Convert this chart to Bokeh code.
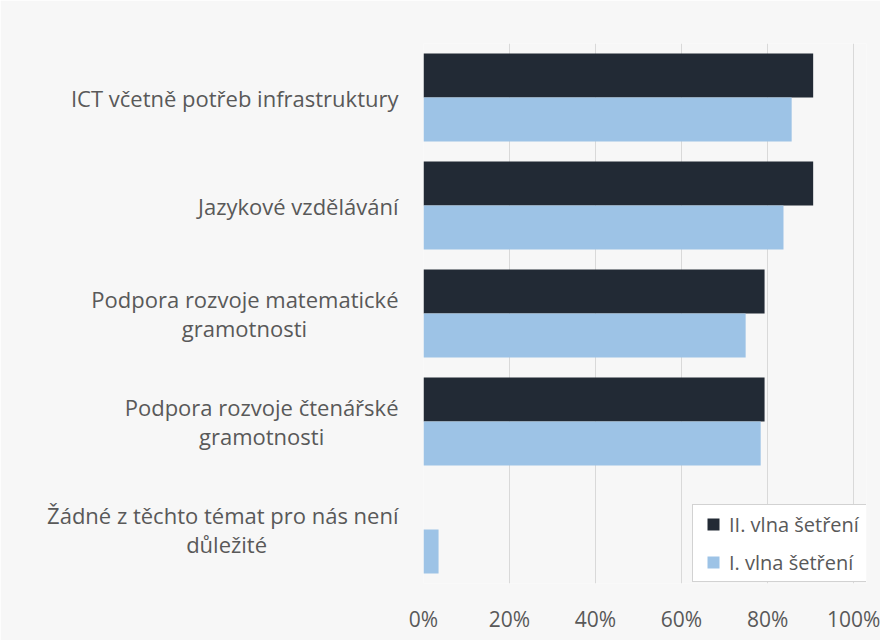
from bokeh.plotting import figure
from bokeh.models import FactorRange, Range1d, Legend, LegendItem, FixedTicker, PrintfTickFormatter, ColumnDataSource
from bokeh.transform import dodge
from bokeh.embed import file_html
from bokeh.resources import INLINE

NB = "\u00a0"
categories = [
    "ICT včetně potřeb infrastruktury",
    "Jazykové vzdělávání",
    "Podpora rozvoje matematické\ngramotnosti" + NB * 16,
    "Podpora rozvoje čtenářské\ngramotnosti" + NB * 13,
    "Žádné z těchto témat pro nás není\ndůležité" + NB * 23,
]
wave2 = [90.6, 90.6, 79.3, 79.3, 0.0]   # II. vlna šetření
wave1 = [85.6, 83.7, 74.9, 78.4, 3.5]   # I. vlna šetření
series_names = ["II. vlna šetření", "I. vlna šetření"]
x_ticks = [0, 20, 40, 60, 80, 100]
series_colors = ["#222a35", "#9dc3e6"]

FONT = "Open Sans"
TEXT = "#595959"
BG = "#f7f7f7"

src = ColumnDataSource(dict(cat=categories, w2=wave2, w1=wave1))

p = figure(
    y_range=FactorRange(factors=list(reversed(categories))),
    x_range=Range1d(0, 103),
    frame_width=443, frame_height=540,
    min_border_left=423, min_border_right=14, min_border_top=43, min_border_bottom=57,
    output_backend="svg", toolbar_location=None,
    background_fill_color=BG, border_fill_color=BG, outline_line_color=None,
)

y2 = dodge("cat", 0.204, range=p.y_range)
y1 = dodge("cat", -0.204, range=p.y_range)
r2 = p.hbar(y=y2, right="w2", left=0, height=0.407,
            source=src, fill_color=series_colors[0], line_color=None)
r1 = p.hbar(y=y1, right="w1", left=0, height=0.407,
            source=src, fill_color=series_colors[1], line_color=None)

# square legend swatches (zero-size in the plot, sized by the legend itself)
k2 = p.scatter(x="w2", y=y2, source=src, marker="square", size=0,
               fill_color=series_colors[0], line_color=None)
k1 = p.scatter(x="w1", y=y1, source=src, marker="square", size=0,
               fill_color=series_colors[1], line_color=None)

p.ygrid.grid_line_color = None
p.xgrid.grid_line_color = "#d9d9d9"
p.xgrid.grid_line_width = 1
p.xaxis.ticker = FixedTicker(ticks=x_ticks)
p.xaxis.formatter = PrintfTickFormatter(format="%d%%")

for ax in (p.xaxis[0], p.yaxis[0]):
    ax.axis_line_color = None
    ax.major_tick_line_color = None
    ax.minor_tick_line_color = None
    ax.major_tick_out = 0
    ax.major_tick_in = 0
    ax.major_label_text_font = FONT
    ax.major_label_text_color = TEXT
p.xaxis.major_label_text_font_size = "21px"
p.yaxis.major_label_text_font_size = "22px"
p.yaxis.major_label_text_line_height = 0.94
p.xaxis.major_label_standoff = 21
p.yaxis.major_label_standoff = 25

legend = Legend(
    items=[LegendItem(label=series_names[0], renderers=[k2]),
           LegendItem(label=series_names[1], renderers=[k1])],
    location=(269, 1),
    glyph_width=32, glyph_height=30, label_height=30, label_width=133,
    spacing=8, padding=4, margin=0, label_standoff=0,
    label_text_font=FONT, label_text_font_size="20px", label_text_color=TEXT,
    border_line_color="#a5a5a5", border_line_width=1.5,
    background_fill_color="white", background_fill_alpha=1,
)
p.add_layout(legend)

open("out.html", "w").write(file_html(p, INLINE))
